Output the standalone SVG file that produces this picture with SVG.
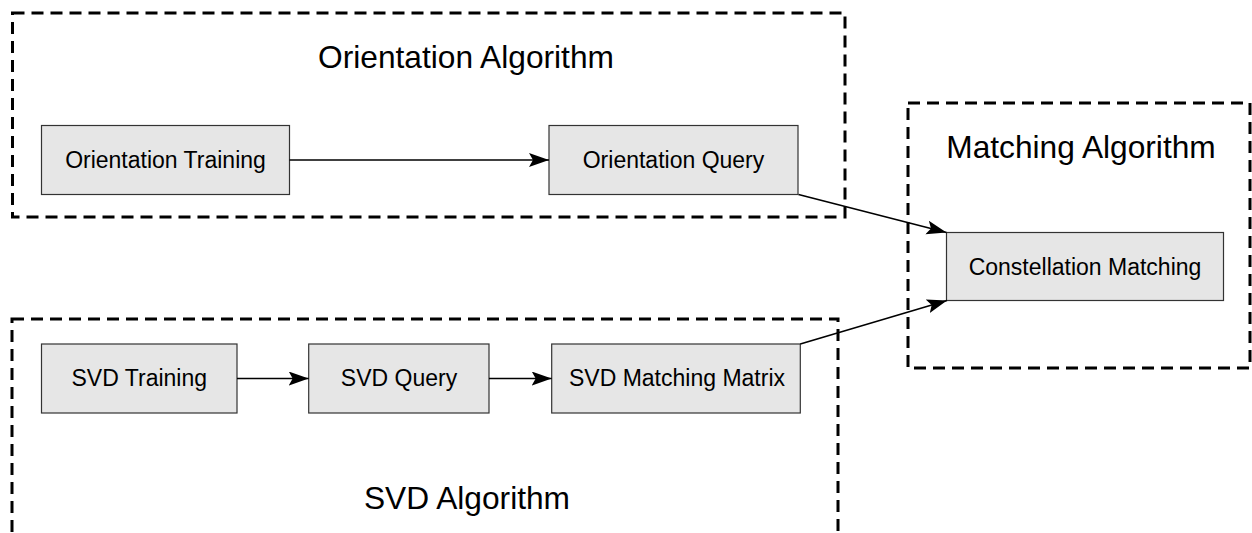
<svg xmlns="http://www.w3.org/2000/svg" width="1252" height="533" viewBox="0 0 1252 533">
<style>
.group{fill:none;stroke:#000;stroke-width:3;stroke-dasharray:12 7}
.node{fill:#e6e6e6;stroke:#333;stroke-width:1.2}
.title{font-family:"Liberation Sans",Arial,sans-serif;font-size:31.7px;fill:#000;text-anchor:middle}
.label{font-family:"Liberation Sans",Arial,sans-serif;font-size:23px;fill:#000;text-anchor:middle}
.edge{fill:none;stroke:#000;stroke-width:1.6}
</style>
<defs>
<marker id="arr" markerUnits="userSpaceOnUse" markerWidth="22" markerHeight="16" refX="20" refY="7" orient="auto">
<path d="M0,0 L20,7 L0,14 L4,7 Z" fill="#000"/>
</marker>
</defs>
<g id="orientation-algorithm">
<rect class="group" x="12.5" y="13" width="832.5" height="204"/>
<text class="title" x="466" y="68">Orientation Algorithm</text>
</g>
<g id="matching-algorithm">
<rect class="group" x="908" y="103" width="342" height="265"/>
<text class="title" x="1081" y="158">Matching Algorithm</text>
</g>
<g id="svd-algorithm">
<rect class="group" x="12" y="319" width="826" height="240"/>
<text class="title" x="467" y="509">SVD Algorithm</text>
</g>
<g id="orientation-training">
<rect class="node" x="41.5" y="125.5" width="248" height="69"/>
<text class="label" x="165.5" y="168">Orientation Training</text>
</g>
<g id="orientation-query">
<rect class="node" x="549" y="125.5" width="249" height="69"/>
<text class="label" x="673.5" y="168">Orientation Query</text>
</g>
<g id="constellation-matching">
<rect class="node" x="946.5" y="232.5" width="277" height="68"/>
<text class="label" x="1085" y="275">Constellation Matching</text>
</g>
<g id="svd-training">
<rect class="node" x="41.5" y="344" width="195.5" height="69"/>
<text class="label" x="139.3" y="386">SVD Training</text>
</g>
<g id="svd-query">
<rect class="node" x="308.7" y="344" width="180.3" height="69"/>
<text class="label" x="399" y="386">SVD Query</text>
</g>
<g id="svd-matching-matrix">
<rect class="node" x="551.7" y="344" width="248.6" height="69"/>
<text class="label" x="677" y="386">SVD Matching Matrix</text>
</g>
<g id="connectors">
<line class="edge" x1="289.5" y1="160" x2="549" y2="160" marker-end="url(#arr)"/>
<line class="edge" x1="237" y1="378.5" x2="308.7" y2="378.5" marker-end="url(#arr)"/>
<line class="edge" x1="489" y1="378.5" x2="551.7" y2="378.5" marker-end="url(#arr)"/>
<line class="edge" x1="798.5" y1="194.5" x2="946.5" y2="232.5" marker-end="url(#arr)"/>
<line class="edge" x1="800.3" y1="344" x2="947" y2="300.5" marker-end="url(#arr)"/>
</g>
</svg>
